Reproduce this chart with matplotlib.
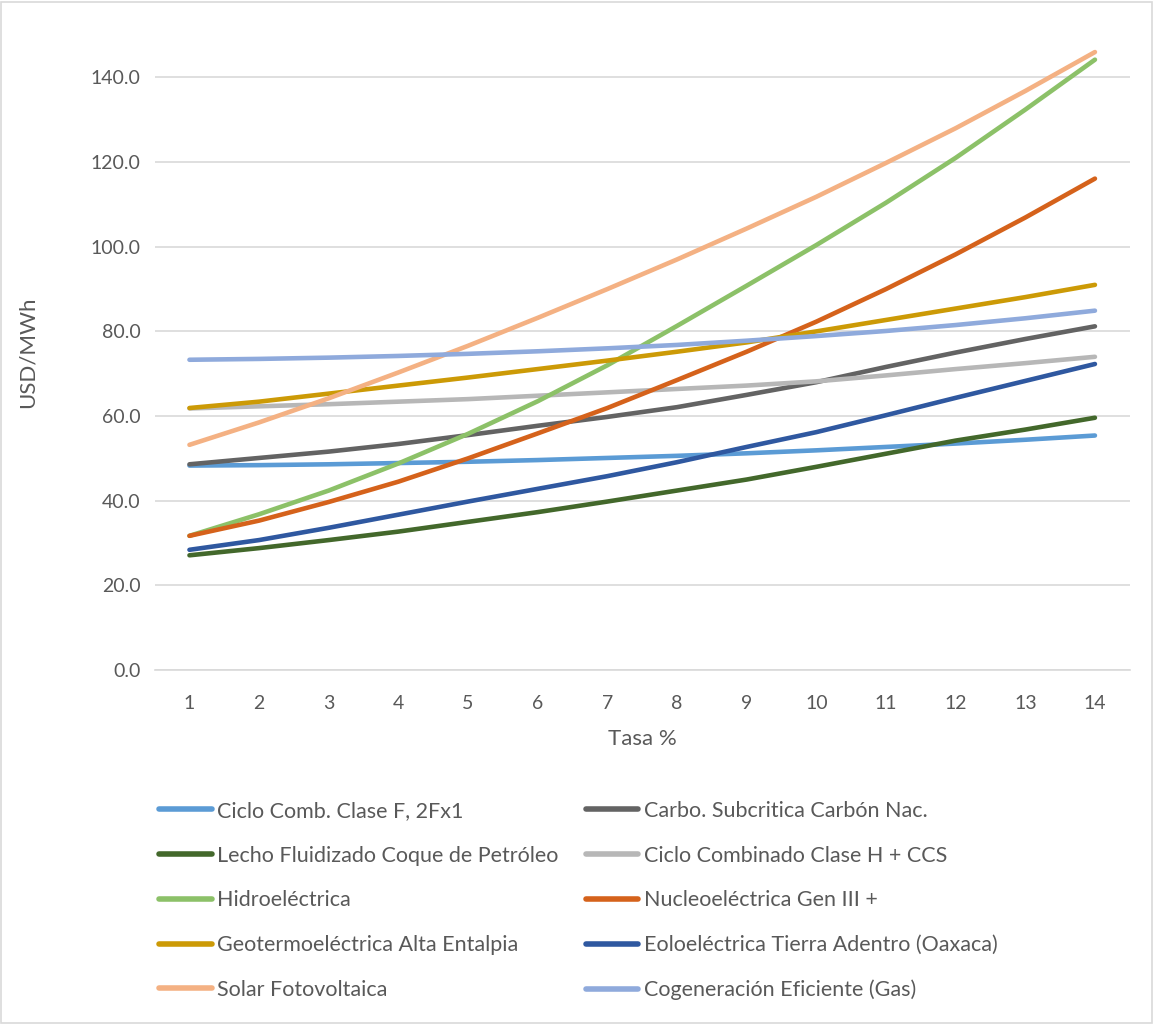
import matplotlib
matplotlib.use("Agg")
import matplotlib.pyplot as plt
from matplotlib.patches import Rectangle

plt.rcParams['font.family'] = ['Lato', 'DejaVu Sans']

# --- data ---
tasa = list(range(1, 15))

ciclo_f = [48.3, 48.4, 48.6, 48.9, 49.2, 49.6, 50.1, 50.6, 51.2, 51.9, 52.7, 53.5, 54.4, 55.4]
carbo = [48.6, 50.1, 51.6, 53.4, 55.5, 57.7, 59.8, 62.1, 65.0, 68.0, 71.6, 75.0, 78.2, 81.2]
lecho = [27.1, 28.8, 30.7, 32.7, 35.0, 37.3, 39.8, 42.4, 45.0, 48.0, 51.1, 54.2, 56.8, 59.6]
ciclo_h = [61.8, 62.3, 62.8, 63.4, 64.0, 64.8, 65.6, 66.4, 67.2, 68.2, 69.6, 71.1, 72.5, 74.0]
hidro = [31.7, 36.8, 42.4, 48.8, 55.8, 63.5, 72.0, 81.3, 90.8, 100.4, 110.4, 121.0, 132.4, 144.2]
nucleo = [31.7, 35.3, 39.7, 44.5, 50.0, 55.9, 61.9, 68.5, 75.2, 82.3, 90.0, 98.2, 106.9, 116.1]
geo = [61.9, 63.4, 65.3, 67.2, 69.1, 71.1, 73.1, 75.2, 77.4, 80.0, 82.7, 85.4, 88.1, 91.0]
eolo = [28.4, 30.7, 33.6, 36.7, 39.8, 42.8, 45.8, 49.1, 52.7, 56.2, 60.2, 64.3, 68.3, 72.3]
solar = [53.2, 58.5, 64.2, 70.3, 76.6, 83.2, 90.0, 97.0, 104.3, 111.8, 119.8, 128.0, 136.8, 146.0]
cogen = [73.3, 73.5, 73.8, 74.2, 74.7, 75.3, 76.0, 76.8, 77.8, 78.9, 80.1, 81.5, 83.1, 84.9]

names = [
    "Ciclo Comb. Clase F, 2Fx1",
    "Carbo. Subcritica Carbón Nac.",
    "Lecho Fluidizado Coque de Petróleo",
    "Ciclo Combinado Clase H + CCS",
    "Hidroeléctrica",
    "Nucleoeléctrica Gen III +",
    "Geotermoeléctrica Alta Entalpia",
    "Eoloeléctrica Tierra Adentro (Oaxaca)",
    "Solar Fotovoltaica",
    "Cogeneración Eficiente (Gas)",
]
series = [ciclo_f, carbo, lecho, ciclo_h, hidro, nucleo, geo, eolo, solar, cogen]
colors = ["#5B9BD5", "#636363", "#43682B", "#B7B7B7", "#8CC168",
          "#D5621B", "#CC9A06", "#2F58A0", "#F4B183", "#8FAADC"]

text_color = "#595959"

fig = plt.figure(figsize=(11.54, 10.24), dpi=100)
ax = fig.add_axes([0.134, 0.3457, 0.845, 0.620])

lines = []
for vals, name, c in zip(series, names, colors):
    ln, = ax.plot(tasa, vals, color=c, lw=3.3, label=name, solid_capstyle='round')
    lines.append(ln)

ax.set_xlim(0.5, 14.5)
ax.set_ylim(0, 150)
ax.set_yticks(range(0, 141, 20))
ax.set_yticklabels([f"{v:.1f}" for v in range(0, 141, 20)])
ax.set_xticks(tasa)
ax.grid(axis='y', color="#D9D9D9", lw=1.2)
ax.set_axisbelow(True)
for s in ['top', 'right', 'left']:
    ax.spines[s].set_visible(False)
ax.spines['bottom'].set_color("#D9D9D9")
ax.spines['bottom'].set_linewidth(1.2)
ax.tick_params(length=0, labelsize=14, colors=text_color, pad=10)
ax.tick_params(axis='x', pad=18)

ax.set_xlabel("Tasa %", fontsize=16, color=text_color, labelpad=12)
ax.set_ylabel("USD/MWh", fontsize=16, color=text_color, labelpad=38)

# legend in two columns, filled row by row like the original
order = [0, 2, 4, 6, 8, 1, 3, 5, 7, 9]
leg = fig.legend([lines[i] for i in order], [names[i] for i in order],
                 loc='upper left', bbox_to_anchor=(0.138, 0.218), ncol=2,
                 frameon=False, fontsize=15.5, handlelength=2.45, handletextpad=0.25,
                 columnspacing=1.25, labelspacing=1.15, borderpad=0, borderaxespad=0)
for t in leg.get_texts():
    t.set_color(text_color)
for h in leg.get_lines():
    h.set_linewidth(4)

# chart border
fig.add_artist(Rectangle((0.001, 0.001), 0.997, 0.997, transform=fig.transFigure,
                         fill=False, edgecolor="#D9D9D9", lw=1.2))

fig.savefig("out.png", dpi=100)
